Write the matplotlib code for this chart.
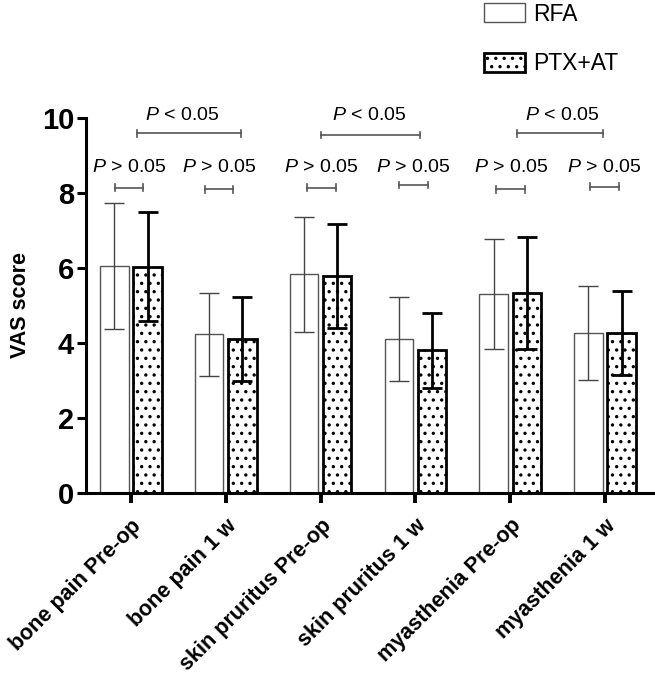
import numpy as np
import matplotlib
matplotlib.use('Agg')
import matplotlib.pyplot as plt

plt.rcParams['font.family'] = ['Liberation Sans', 'DejaVu Sans']
plt.rcParams['hatch.linewidth'] = 1.2
plt.rcParams['mathtext.fontset'] = 'custom'
plt.rcParams['mathtext.it'] = 'Liberation Sans:italic'
plt.rcParams['mathtext.rm'] = 'Liberation Sans'

# data
categories = ['bone pain Pre-op', 'bone pain 1 w', 'skin pruritus Pre-op',
              'skin pruritus 1 w', 'myasthenia Pre-op', 'myasthenia 1 w']
rfa_mean = [6.05, 4.23, 5.83, 4.11, 5.30, 4.26]
rfa_sd = [1.68, 1.11, 1.53, 1.12, 1.47, 1.25]
ptx_mean = [6.04, 4.12, 5.79, 3.81, 5.33, 4.27]
ptx_sd = [1.46, 1.12, 1.39, 1.00, 1.49, 1.12]

# within-group comparisons (RFA vs PTX+AT)
pair_left = [-0.17, 0.78, 1.86, 2.83, 3.85, 4.84]
pair_right = [0.13, 1.08, 2.16, 3.13, 4.16, 5.15]
pair_y = [8.14, 8.10, 8.14, 8.21, 8.10, 8.17]
pair_text = ['P > 0.05'] * 6

# between time points
cross_left = [0.06, 2.00, 4.07]
cross_right = [1.16, 3.05, 4.98]
cross_y = [9.59, 9.55, 9.59]
cross_text_x = [0.54, 2.51, 4.55]
cross_text = ['P < 0.05'] * 3

fig = plt.figure(figsize=(6.55, 6.77), dpi=100)
ax = fig.add_axes([86/655, 1-493/677, 1-86/655, (493-118)/677])

x = np.arange(len(categories))
w = 0.30
off = 0.175

ax.bar(x - off, rfa_mean, width=w, color='white', edgecolor='#555555',
       linewidth=1.0, label='RFA', zorder=2)
ax.bar(x + off, ptx_mean, width=w, color='white', edgecolor='black',
       linewidth=2.0, hatch='..', label='PTX+AT', zorder=2)

ax.errorbar(x - off, rfa_mean, yerr=rfa_sd, fmt='none', ecolor='#444444',
            elinewidth=1.0, capsize=7, capthick=1.0, zorder=3)
ax.errorbar(x + off, ptx_mean, yerr=ptx_sd, fmt='none', ecolor='black',
            elinewidth=2.0, capsize=7, capthick=2.0, zorder=3)

def bracket(x1, x2, y, h=0.09):
    ax.plot([x1, x2], [y, y], color='#555555', lw=1.2, zorder=4)
    ax.plot([x1, x1], [y - h, y + h], color='#555555', lw=1.2, zorder=4)
    ax.plot([x2, x2], [y - h, y + h], color='#555555', lw=1.2, zorder=4)

def ptext(xc, y, s):
    sym, rest = s.split(' ', 1)
    ax.text(xc, y, r'$\mathit{P}$ ' + rest, ha='center', va='center',
            fontsize=14, clip_on=False)

for l, r, y, s in zip(pair_left, pair_right, pair_y, pair_text):
    bracket(l, r, y)
    ptext((l + r) / 2, 8.69, s)

for l, r, y, xt, s in zip(cross_left, cross_right, cross_y, cross_text_x, cross_text):
    bracket(l, r, y)
    ptext(xt, 10.08, s)

ax.set_xlim(-0.475, 5.527)
ax.set_ylim(0, 10)
ax.set_yticks([0, 2, 4, 6, 8, 10])
ax.set_xticks(x)
ax.set_xticklabels(categories, rotation=45, ha='right', rotation_mode='anchor',
                   fontsize=15.5, fontweight='bold')
for lab in ax.get_yticklabels():
    lab.set_fontsize(21)
    lab.set_fontweight('bold')

ax.spines['top'].set_visible(False)
ax.spines['right'].set_visible(False)
ax.spines['left'].set_linewidth(2.2)
ax.spines['bottom'].set_linewidth(2.2)
ax.tick_params(axis='y', width=2.2, length=6.5, pad=2)
ax.tick_params(axis='x', width=2.8, length=7, pad=9)

ax.set_ylabel('VAS score', fontsize=15.5, fontweight='bold', labelpad=8)

fig.legend(loc='upper left', bbox_to_anchor=(484/655, 0.996), frameon=False,
           fontsize=16.5, handlelength=1.8, handleheight=0.9,
           handletextpad=0.35, labelspacing=1.15, borderpad=0, borderaxespad=0)

fig.savefig('out.png', dpi=100)
